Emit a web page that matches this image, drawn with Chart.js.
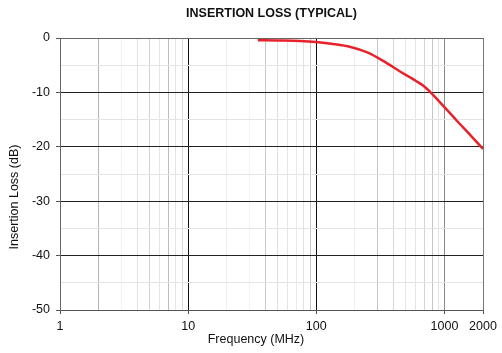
<!DOCTYPE html>
<html>
<head>
<meta charset="utf-8">
<script src="https://cdn.jsdelivr.net/npm/chart.js@4.4.1/dist/chart.umd.min.js"></script>
<style>
  html, body { margin: 0; padding: 0; background: #fff; }
  #wrap { width: 502px; height: 353px; }
</style>
</head>
<body>
<div id="wrap"><canvas id="loss"></canvas></div>
<script>
// Insertion loss vs frequency
const freqMHz = [35, 50, 75, 100, 135, 185, 250, 335, 450, 600, 700, 780, 1000, 1260, 1600, 2000];
const lossDb = [-0.4, -0.45, -0.55, -0.75, -1.1, -1.65, -2.65, -4.25, -6.15, -7.9, -8.95, -10.0, -12.7, -15.3, -17.9, -20.4];

const freqLabels = [1, 10, 100, 1000, 2000];
const lossLabels = [0, -10, -20, -30, -40, -50];

Chart.defaults.font.family = "'Liberation Sans', Arial, sans-serif";
Chart.defaults.color = '#111';

// shades of the vertical grid lines
const xGridShade = {
    1: '#777', 2: '#b4b4b4', 3: '#f2f2f2', 4: '#e2e2e2', 5: '#d2d2d2', 6: '#e4e4e4', 7: '#bdbdbd', 8: '#e6e6e6', 9: '#dadada',
    10: '#111', 20: '#f0f0f0', 30: '#f4f4f4', 40: '#c8c8c8', 50: '#dedede', 60: '#e4e4e4', 70: '#ececec', 80: '#e2e2e2', 90: '#c4c4c4',
    100: '#111', 200: '#f0f0f0', 300: '#c4c4c4', 400: '#d8d8d8', 500: '#e6e6e6', 600: '#e4e4e4', 700: '#d4d4d4', 800: '#c6c6c6', 900: '#e2e2e2',
    1000: '#8a8a8a', 2000: '#777'
};

const xTicks = [];
[1, 10, 100].forEach(d => {
    for (let k = 1; k <= 9; k++) xTicks.push(k * d);
});
xTicks.push(1000, 2000);

// axis titles sit slightly off the plot centre
const axisTitles = {
    id: 'axisTitles',
    afterDraw(chart) {
        const c = chart.ctx;
        c.save();
        c.fillStyle = '#111';
        c.font = "12.5px 'Liberation Sans', Arial, sans-serif";
        c.textAlign = 'center';
        c.textBaseline = 'middle';
        c.fillText('Frequency (MHz)', 256, 340);
        c.translate(15, 197);
        c.rotate(-Math.PI / 2);
        c.fillText('Insertion Loss (dB)', 0, 0);
        c.restore();
    }
};

const ctx = document.getElementById('loss').getContext('2d');
new Chart(ctx, {
    type: 'line',
    data: {
        datasets: [{
            label: 'Insertion Loss',
            data: freqMHz.map((f, i) => ({ x: f, y: lossDb[i] })),
            borderColor: '#e8222b',
            borderWidth: 2.5,
            pointRadius: 0,
            cubicInterpolationMode: 'monotone',
            fill: false
        }]
    },
    options: {
        responsive: true,
        maintainAspectRatio: false,
        animation: false,
        layout: { padding: { left: 0, right: 19, top: 6, bottom: 0 } },
        plugins: {
            legend: { display: false },
            tooltip: { enabled: false },
            title: {
                display: true,
                fullSize: false,
                text: 'INSERTION LOSS (TYPICAL)',
                color: '#111',
                font: { size: 12.5, weight: 'bold' },
                padding: { top: 0, bottom: 17 }
            }
        },
        scales: {
            x: {
                type: 'logarithmic',
                min: 1,
                max: 2000,
                afterBuildTicks: scale => {
                    scale.ticks = xTicks.map(v => ({ value: v }));
                },
                afterFit: scale => { scale.height = 43; },
                ticks: {
                    autoSkip: false,
                    maxRotation: 0,
                    padding: 5,
                    color: '#111',
                    font: { size: 12.5 },
                    callback: v => freqLabels.includes(v) ? String(v) : ''
                },
                grid: {
                    color: c => xGridShade[c.tick && c.tick.value] || '#e6e6e6',
                    tickColor: c => freqLabels.includes(c.tick && c.tick.value) ? '#555' : 'rgba(0,0,0,0)',
                    tickLength: 4
                },
                border: { color: '#555' }
            },
            y: {
                min: -50,
                max: 0,
                afterFit: scale => { scale.width = 60; },
                ticks: {
                    stepSize: 5,
                    padding: 6,
                    color: '#111',
                    font: { size: 12.5 },
                    callback: v => lossLabels.includes(v) ? String(v) : ''
                },
                grid: {
                    color: c => {
                        const v = c.tick && c.tick.value;
                        if (v === 0) return '#666';
                        return v % 10 === 0 ? '#222' : '#e4e4e4';
                    },
                    tickColor: c => lossLabels.includes(c.tick && c.tick.value) ? '#555' : 'rgba(0,0,0,0)',
                    tickLength: 4
                },
                border: { color: '#666' }
            }
        }
    },
    plugins: [axisTitles]
});
</script>
</body>
</html>
